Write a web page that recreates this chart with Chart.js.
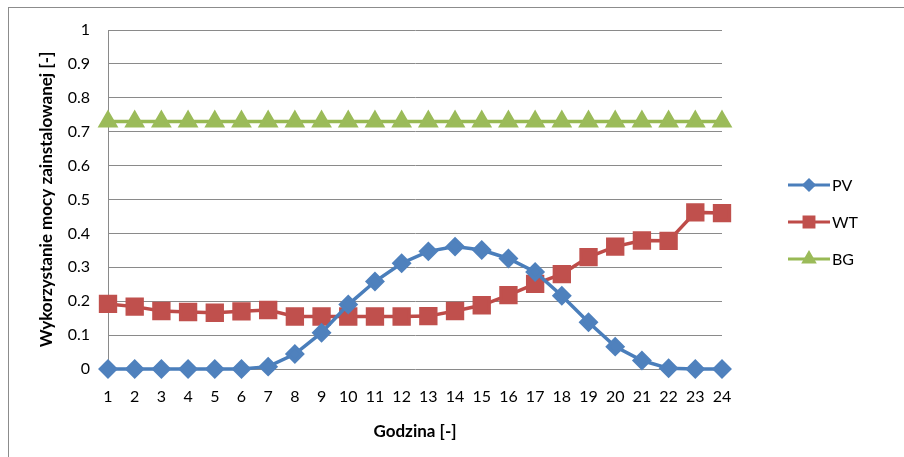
<!DOCTYPE html>
<html>
<head>
<meta charset="utf-8">
<script src="https://cdn.jsdelivr.net/npm/chart.js@4"></script>
<style>
  html, body { margin: 0; padding: 0; background: #fff; }
  #wrap { position: relative; width: 904px; height: 457px; }
  #frame { position: absolute; left: 8px; top: 7px; right: 0; bottom: 0;
           border-left: 1px solid #8c8c8c; border-top: 1px solid #8c8c8c; }
  canvas { position: absolute; left: 0; top: 0; }
</style>
</head>
<body>
<div id="wrap">
  <div id="frame"></div>
  <canvas id="hoursChart" width="904" height="457"></canvas>
</div>
<script>
// hours of the day
const hours = ['1','2','3','4','5','6','7','8','9','10','11','12','13','14','15','16','17','18','19','20','21','22','23','24'];

// utilisation of installed power
const pvValues = [0, 0, 0, 0, 0, 0, 0.007, 0.044, 0.107, 0.19, 0.258, 0.312, 0.347, 0.361, 0.351, 0.326, 0.286, 0.216, 0.138, 0.066, 0.025, 0.002, 0, 0];
const wtValues = [0.192, 0.184, 0.171, 0.168, 0.166, 0.17, 0.174, 0.155, 0.155, 0.155, 0.155, 0.155, 0.156, 0.171, 0.188, 0.218, 0.251, 0.28, 0.33, 0.361, 0.379, 0.378, 0.462, 0.46];
const bgValues = [0.73, 0.73, 0.73, 0.73, 0.73, 0.73, 0.73, 0.73, 0.73, 0.73, 0.73, 0.73, 0.73, 0.73, 0.73, 0.73, 0.73, 0.73, 0.73, 0.73, 0.73, 0.73, 0.73, 0.73];

const yTickLabels = ['0', '0.1', '0.2', '0.3', '0.4', '0.5', '0.6', '0.7', '0.8', '0.9', '1'];

const fontName = 'Lato, "Open Sans", sans-serif';

// legend on the right: line with the marker in the middle
const sideLegend = {
  id: 'sideLegend',
  afterDraw(chart) {
    const ctx = chart.ctx;
    const area = chart.chartArea;
    const x0 = area.right + 66;
    const x1 = area.right + 108;
    let y = 185;
    chart.data.datasets.forEach(function(ds) {
      ctx.save();
      ctx.strokeStyle = ds.borderColor;
      ctx.lineWidth = 3;
      ctx.beginPath();
      ctx.moveTo(x0, y);
      ctx.lineTo(x1, y);
      ctx.stroke();
      ctx.fillStyle = ds.pointBackgroundColor;
      ctx.strokeStyle = ds.pointBackgroundColor;
      Chart.helpers.drawPoint(ctx, { pointStyle: ds.pointStyle, radius: ds.legendRadius, borderWidth: 1, rotation: 0 }, (x0 + x1) / 2, y);
      ctx.fillStyle = '#000';
      ctx.font = '16px ' + fontName;
      ctx.textBaseline = 'middle';
      ctx.textAlign = 'left';
      ctx.fillText(ds.label, x1 + 2, y + 1);
      ctx.restore();
      y += 37;
    });
  }
};

const el = document.getElementById('hoursChart');

const hoursChart = new Chart(el, {
  type: 'line',
  data: {
    labels: hours,
    datasets: [{
      label: 'PV',
      data: pvValues,
      borderColor: '#4A7EBB',
      backgroundColor: '#4F81BD',
      pointBackgroundColor: '#4F81BD',
      pointBorderColor: '#4F81BD',
      pointStyle: 'rectRot',
      pointRadius: 7.5,
      legendRadius: 5,
      borderWidth: 3.5,
      clip: false,
      tension: 0
    }, {
      label: 'WT',
      data: wtValues,
      borderColor: '#BE4B48',
      backgroundColor: '#C0504D',
      pointBackgroundColor: '#C0504D',
      pointBorderColor: '#C0504D',
      pointStyle: 'rect',
      pointRadius: 10.5,
      legendRadius: 7,
      borderWidth: 3.5,
      clip: false,
      tension: 0
    }, {
      label: 'BG',
      data: bgValues,
      borderColor: '#98B954',
      backgroundColor: '#9BBB59',
      pointBackgroundColor: '#9BBB59',
      pointBorderColor: '#9BBB59',
      pointStyle: 'triangle',
      pointRadius: 8.5,
      legendRadius: 6,
      borderWidth: 3.5,
      clip: false,
      tension: 0
    }]
  },
  options: {
    responsive: false,
    animation: false,
    layout: { padding: { left: 36, right: 182, top: 30, bottom: 15 } },
    plugins: {
      legend: { display: false },
      tooltip: { enabled: false }
    },
    scales: {
      x: {
        offset: false,
        grid: { display: false, drawTicks: false },
        border: { display: false },
        ticks: { color: '#000', padding: 18, maxRotation: 0, autoSkip: false, font: { family: fontName, size: 16 } },
        title: { display: true, text: 'Godzina [-]', color: '#000', padding: { top: 8, bottom: 0 }, font: { family: fontName, size: 17, weight: 'bold' } },
        afterFit: function(axis) { axis.height = 73; }
      },
      y: {
        min: 0,
        max: 1,
        grid: { color: '#8a8a8a', lineWidth: 1, drawTicks: false },
        border: { display: true, color: '#8a8a8a', width: 1 },
        ticks: {
          stepSize: 0.1,
          color: '#000',
          padding: 18,
          font: { family: fontName, size: 16 },
          callback: function(value, index) { return yTickLabels[index]; }
        },
        title: { display: true, text: 'Wykorzystanie mocy zainstalowanej [-]', color: '#000', padding: { top: 0, bottom: 0 }, font: { family: fontName, size: 17, weight: 'bold' } },
        afterFit: function(axis) { axis.width = 72; }
      }
    }
  },
  plugins: [sideLegend]
});
</script>
</body>
</html>
